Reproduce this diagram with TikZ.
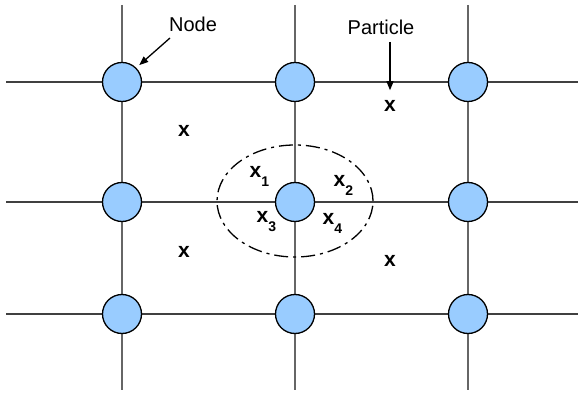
\documentclass[tikz,border=0pt]{standalone}
\usepackage{fontspec}
\setmainfont{Liberation Sans}
\usetikzlibrary{arrows.meta}
\definecolor{nodeblue}{RGB}{153,204,255}
\newcommand{\xsub}[1]{\textbf{x}\raisebox{-4.5pt}{\fontsize{7}{8}\selectfont #1}}

\begin{document}
\begin{tikzpicture}[x=0.5pt, y=-0.5pt, line width=0.65pt,
    gridnode/.style={circle, draw=black, fill=nodeblue, minimum size=19.5pt, inner sep=0pt},
    txt/.style={font=\fontsize{10}{12}\selectfont, inner sep=0pt, anchor=base},
    ptxt/.style={txt, font=\fontsize{10.5}{12}\selectfont\bfseries},
    pointer/.style={-{Triangle[length=4.5pt,width=3.5pt]}}]
\useasboundingbox (0,0) rectangle (581,394);
% grid lines
\foreach \y in {82,202,314}
    \draw[black!75] (6,\y) -- (578,\y);
\foreach \x in {122,295,468}
    \draw[black!60] (\x,5) -- (\x,390);
% lattice nodes
\foreach \x/\i in {122/1,295/2,468/3}
    \foreach \y/\j in {82/1,202/2,314/3}
        \node[gridnode] (n\i\j) at (\x,\y) {};
% support region
\draw[dash pattern=on 7pt off 2.5pt on 1.5pt off 2.5pt] (295,201) ellipse [x radius=39pt, y radius=28pt];
% labels
\node[txt] (nodelbl) at (193,32) {Node};
\node[txt] (parlbl) at (381,35) {Particle};
\node[ptxt] (p) at (390,112) {x};
\node[ptxt] (pa) at (184,137) {x};
\node[ptxt] (pb) at (184,257) {x};
\node[ptxt] (pc) at (390,266) {x};
\node[ptxt, anchor=base west] (p1) at (249,178) {\xsub{1}};
\node[ptxt, anchor=base west] (p2) at (333,187) {\xsub{2}};
\node[ptxt, anchor=base west] (p3) at (256,223) {\xsub{3}};
\node[ptxt, anchor=base west] (p4) at (322,225) {\xsub{4}};
% pointers
\coordinate (nodetail) at (170,38);
\coordinate (partail) at (390,42);
\draw[pointer, shorten >=2pt] (nodetail) -- (n11.45);
\draw[pointer, shorten >=5pt] (partail) -- (p.north);
\end{tikzpicture}
\end{document}
